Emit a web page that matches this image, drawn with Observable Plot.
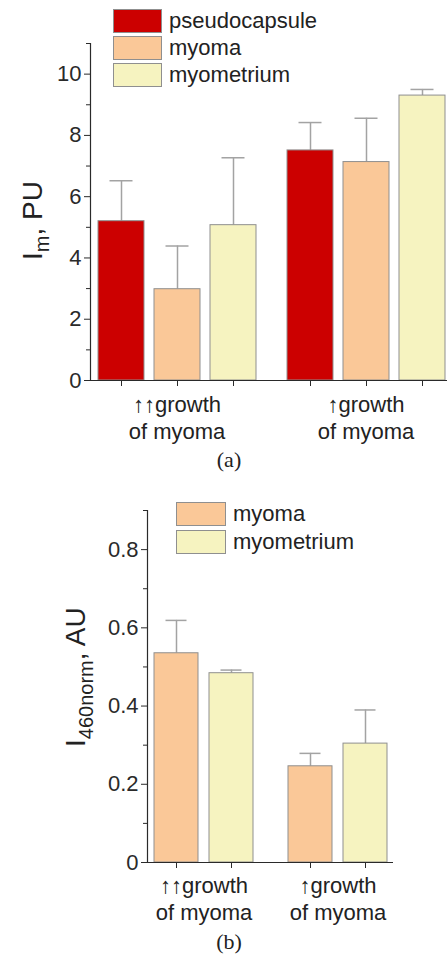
<!DOCTYPE html>
<html>
<head>
<meta charset="utf-8">
<script src="https://cdn.jsdelivr.net/npm/d3@7"></script>
<script src="https://cdn.jsdelivr.net/npm/@observablehq/plot@0.6"></script>
<style>
  html, body { margin: 0; padding: 0; background: #fff; overflow: hidden; }
  #page { position: relative; width: 447px; height: 956px; font-family: 'Liberation Sans', 'DejaVu Sans', Arial, sans-serif; color: #222; }
  .abs { position: absolute; }
  .legend-row { display: flex; align-items: center; height: 24px; margin-bottom: 3px; }
  .swatch { box-sizing: border-box; height: 24px; border: 1px solid #8f8f8f; flex: none; }
  .legend-row span { font-size: 22px; line-height: 24px; margin-left: 7px; white-space: nowrap; }
  .caption { font-family: 'Liberation Serif', 'Times New Roman', serif; font-size: 22px; line-height: 22px; transform: translateX(-50%); }
</style>
</head>
<body>
<div id="page"></div>
<script>
// ---------- Data: panel (a) ----------
const groupsA = ["↑↑growth\nof myoma", "↑growth\nof myoma"];
const seriesA = ["pseudocapsule", "myoma", "myometrium"];
const pseudocapsuleA = [5.2, 7.51];
const myomaA = [2.98, 7.13];
const myometriumA = [5.07, 9.3];
const pseudocapsuleErrA = [1.32, 0.91];
const myomaErrA = [1.41, 1.43];
const myometriumErrA = [2.2, 0.2];
const yMajorA = [0, 2, 4, 6, 8, 10];
const yMinorA = [1, 3, 5, 7, 9, 11];
const yDomainA = [0, 11];

// ---------- Data: panel (b) ----------
const groupsB = ["↑↑growth\nof myoma", "↑growth\nof myoma"];
const seriesB = ["myoma", "myometrium"];
const myomaB = [0.535, 0.246];
const myometriumB = [0.484, 0.304];
const myomaErrB = [0.084, 0.033];
const myometriumErrB = [0.008, 0.086];
const yMajorB = [0, 0.2, 0.4, 0.6, 0.8];
const yMinorB = [0.1, 0.3, 0.5, 0.7, 0.9];
const yDomainB = [0, 0.9];

const colorMap = {pseudocapsule: "#cc0000", myoma: "#fac898", myometrium: "#f6f3c0"};
const errColor = "#a3a3a3";
const barStroke = "#8f8f8f";
const axisColor = "#2a2a2a";

const valuesA = {pseudocapsule: pseudocapsuleA, myoma: myomaA, myometrium: myometriumA};
const errsA = {pseudocapsule: pseudocapsuleErrA, myoma: myomaErrA, myometrium: myometriumErrA};
const rowsA = [];
groupsA.forEach((g, gi) => seriesA.forEach(s => rowsA.push({group: g, series: s, value: valuesA[s][gi], top: valuesA[s][gi] + errsA[s][gi]})));

const valuesB = {myoma: myomaB, myometrium: myometriumB};
const errsB = {myoma: myomaErrB, myometrium: myometriumErrB};
const rowsB = [];
groupsB.forEach((g, gi) => seriesB.forEach(s => rowsB.push({group: g, series: s, value: valuesB[s][gi], top: valuesB[s][gi] + errsB[s][gi]})));

const page = document.getElementById("page");
const plotStyle = {fontFamily: "'Liberation Sans', 'DejaVu Sans', Arial, sans-serif", fontSize: "22px", color: axisColor, background: "white", overflow: "hidden"};

// ---------- Panel (a) ----------
const svgA = Plot.plot({
  width: 447, height: 445,
  marginLeft: 90, marginRight: -5, marginTop: 43, marginBottom: 65,
  style: plotStyle,
  fx: {domain: groupsA, paddingInner: 0.085, paddingOuter: 0, label: null},
  x: {domain: seriesA, paddingInner: 0.186, paddingOuter: 0.124, label: null},
  y: {domain: yDomainA, label: null},
  color: {domain: seriesA, range: seriesA.map(s => colorMap[s])},
  marks: [
    Plot.ruleX(rowsA, {fx: "group", x: "series", y1: "value", y2: "top", stroke: errColor, strokeWidth: 1.5}),
    Plot.tickY(rowsA, {fx: "group", x: "series", y: "top", stroke: errColor, strokeWidth: 1.5, insetLeft: 11.5, insetRight: 11.5}),
    Plot.barY(rowsA, {fx: "group", x: "series", y: "value", fill: "series", stroke: barStroke, strokeWidth: 1}),
    Plot.frame({anchor: "left", facetAnchor: "left", stroke: axisColor, strokeWidth: 1.2}),
    Plot.ruleY([0], {stroke: axisColor, strokeWidth: 1.2, insetLeft: -5, insetRight: -20}),
    Plot.axisY({ticks: yMajorA, tickSize: 6, tickPadding: 3, label: null, tickFormat: d => String(d)}),
    Plot.axisY({ticks: yMinorA, tickSize: 4, tickFormat: () => "", label: null}),
    Plot.axisX({tickSize: 6, tickFormat: () => "", label: null}),
    Plot.axisFx({anchor: "bottom", tickSize: 0, tickPadding: 13, label: null, lineHeight: 1.2, fill: "#222"})
  ]
});
svgA.style.position = "absolute"; svgA.style.left = "0px"; svgA.style.top = "0px";
page.appendChild(svgA);
{
  const t = d3.select(svgA).append("text")
    .attr("transform", "translate(42,260) rotate(-90)")
    .attr("text-anchor", "start").attr("fill", "#222")
    .style("font-size", "28px");
  t.append("tspan").text("I");
  t.append("tspan").attr("dy", 7).style("font-size", "20px").text("m");
  t.append("tspan").attr("dy", -7).text(", PU");
}

// legend (a)
{
  const lg = document.createElement("div");
  lg.className = "abs"; lg.style.left = "113px"; lg.style.top = "9px";
  seriesA.forEach(s => {
    const r = document.createElement("div"); r.className = "legend-row";
    const sw = document.createElement("div"); sw.className = "swatch"; sw.style.width = "49px"; sw.style.background = colorMap[s];
    const tx = document.createElement("span"); tx.textContent = s;
    r.appendChild(sw); r.appendChild(tx); lg.appendChild(r);
  });
  page.appendChild(lg);
}
const capA = document.createElement("div");
capA.className = "abs caption"; capA.style.left = "229px"; capA.style.top = "449px"; capA.textContent = "(a)";
page.appendChild(capA);

// ---------- Panel (b) ----------
const svgB = Plot.plot({
  width: 447, height: 445,
  marginLeft: 147, marginRight: 53, marginTop: 30, marginBottom: 63,
  style: plotStyle,
  fx: {domain: groupsB, paddingInner: 0.157, paddingOuter: 0, label: null},
  x: {domain: seriesB, paddingInner: 0.196, paddingOuter: 0.107, label: null},
  y: {domain: yDomainB, label: null},
  color: {domain: seriesB, range: seriesB.map(s => colorMap[s])},
  marks: [
    Plot.ruleX(rowsB, {fx: "group", x: "series", y1: "value", y2: "top", stroke: errColor, strokeWidth: 1.5}),
    Plot.tickY(rowsB, {fx: "group", x: "series", y: "top", stroke: errColor, strokeWidth: 1.5, insetLeft: 11.5, insetRight: 11.5}),
    Plot.barY(rowsB, {fx: "group", x: "series", y: "value", fill: "series", stroke: barStroke, strokeWidth: 1}),
    Plot.frame({anchor: "left", facetAnchor: "left", stroke: axisColor, strokeWidth: 1.2}),
    Plot.ruleY([groupsB[0]], {fx: d => d, y: () => 0, stroke: axisColor, strokeWidth: 1.2, insetLeft: -5, insetRight: -21}),
    Plot.ruleY([groupsB[1]], {fx: d => d, y: () => 0, stroke: axisColor, strokeWidth: 1.2, insetLeft: 0, insetRight: 1}),
    Plot.axisY({ticks: yMajorB, tickSize: 6, tickPadding: 3, label: null, tickFormat: d => String(d)}),
    Plot.axisY({ticks: yMinorB, tickSize: 4, tickFormat: () => "", label: null}),
    Plot.axisX({tickSize: 6, tickFormat: () => "", label: null}),
    Plot.axisFx({anchor: "bottom", tickSize: 0, tickPadding: 12, label: null, lineHeight: 1.2, fill: "#222"})
  ]
});
svgB.style.position = "absolute"; svgB.style.left = "0px"; svgB.style.top = "480px";
page.appendChild(svgB);
{
  const t = d3.select(svgB).append("text")
    .attr("transform", "translate(85,267) rotate(-90)")
    .attr("text-anchor", "start").attr("fill", "#222")
    .style("font-size", "28px");
  t.append("tspan").text("I");
  t.append("tspan").attr("dy", 8).style("font-size", "20px").text("460norm");
  t.append("tspan").attr("dy", -8).text(", AU");
}
// legend (b)
{
  const lg = document.createElement("div");
  lg.className = "abs"; lg.style.left = "176px"; lg.style.top = "502px";
  seriesB.forEach(s => {
    const r = document.createElement("div"); r.className = "legend-row"; r.style.marginBottom = "4px";
    const sw = document.createElement("div"); sw.className = "swatch"; sw.style.width = "50px"; sw.style.background = colorMap[s];
    const tx = document.createElement("span"); tx.textContent = s;
    r.appendChild(sw); r.appendChild(tx); lg.appendChild(r);
  });
  page.appendChild(lg);
}
const capB = document.createElement("div");
capB.className = "abs caption"; capB.style.left = "229px"; capB.style.top = "931px"; capB.textContent = "(b)";
page.appendChild(capB);
</script>
</body>
</html>
